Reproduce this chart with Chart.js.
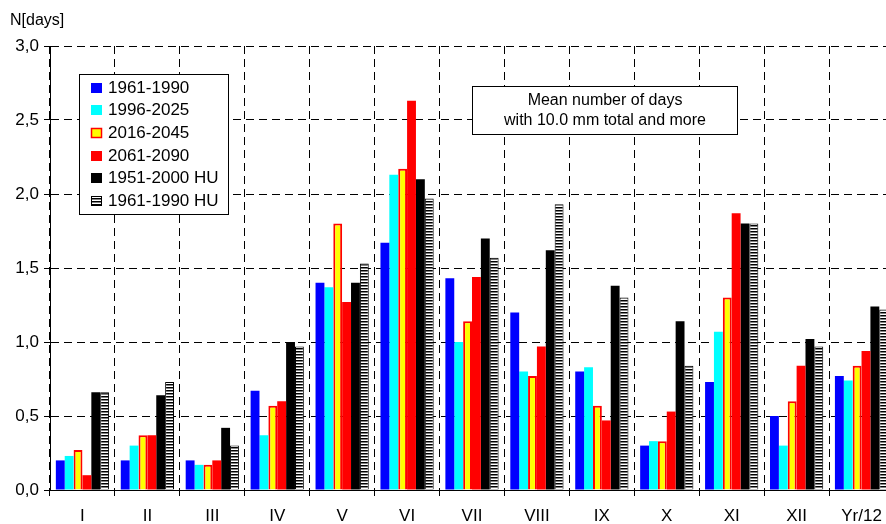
<!DOCTYPE html>
<html>
<head>
<meta charset="utf-8">
<script src="https://cdn.jsdelivr.net/npm/chart.js@4/dist/chart.umd.min.js"></script>
<style>
html, body { margin: 0; padding: 0; background: #fff; overflow: hidden; width: 886px; height: 524px; }
#c { display: block; }
</style>
</head>
<body>
<canvas id="c" width="900" height="524" style="width:900px;height:524px"></canvas>
<script>
const categories = ['I','II','III','IV','V','VI','VII','VIII','IX','X','XI','XII','Yr/12'];
const yTickLabels = ['0,0','0,5','1,0','1,5','2,0','2,5','3,0'];
const seriesNames = ['1961-1990','1996-2025','2016-2045','2061-2090','1951-2000 HU','1961-1990 HU'];
const s1961_1990   = [0.20, 0.20, 0.20, 0.67, 1.40, 1.67, 1.43, 1.20, 0.80, 0.30, 0.73, 0.50, 0.77];
const s1996_2025   = [0.23, 0.30, 0.17, 0.37, 1.37, 2.13, 1.00, 0.80, 0.83, 0.33, 1.07, 0.30, 0.74];
const s2016_2045   = [0.27, 0.37, 0.17, 0.57, 1.80, 2.17, 1.14, 0.77, 0.57, 0.33, 1.30, 0.60, 0.84];
const s2061_2090   = [0.10, 0.37, 0.20, 0.60, 1.27, 2.63, 1.44, 0.97, 0.47, 0.53, 1.87, 0.84, 0.94];
const s1951_2000HU = [0.66, 0.64, 0.42, 1.00, 1.40, 2.10, 1.70, 1.62, 1.38, 1.14, 1.80, 1.02, 1.24];
const s1961_1990HU = [0.66, 0.73, 0.30, 0.97, 1.53, 1.97, 1.57, 1.93, 1.30, 0.84, 1.80, 0.97, 1.22];
const titleLines = ['Mean number of days', 'with 10.0 mm total and more'];
const yAxisTitle = 'N[days]';

const FONT = '"Liberation Sans", Arial, sans-serif';

// hatch pattern
function makeHatch(ctx) {
  const pc = document.createElement('canvas');
  pc.width = 4; pc.height = 3;
  const p = pc.getContext('2d');
  p.fillStyle = '#fff'; p.fillRect(0, 0, 4, 3);
  p.fillStyle = '#000'; p.fillRect(0, 0, 4, 1);
  p.fillStyle = '#808080'; p.fillRect(0, 1, 4, 1);
  return ctx.createPattern(pc, 'repeat');
}

const canvas = document.getElementById('c');
const ctx = canvas.getContext('2d');
const hatch = makeHatch(ctx);

const styles = [
  { bg: '#0000ff', bc: '#0000ff', bw: 0 },
  { bg: '#00ffff', bc: '#00ffff', bw: 0 },
  { bg: '#ffff00', bc: '#ff0000', bw: 2 },
  { bg: '#ff0000', bc: '#ff0000', bw: 0 },
  { bg: '#000000', bc: '#000000', bw: 0 },
  { bg: hatch,     bc: '#000000', bw: 1 }
];
const seriesData = [s1961_1990, s1996_2025, s2016_2045, s2061_2090, s1951_2000HU, s1961_1990HU];

const datasets = seriesData.map((d, i) => ({
  label: seriesNames[i],
  data: d,
  backgroundColor: styles[i].bg,
  borderColor: styles[i].bc,
  borderWidth: styles[i].bw,
  categoryPercentage: 0.82,
  barPercentage: 1.0
}));

const overlay = {
  id: 'overlay',
  afterDraw(chart) {
    const c = chart.ctx;
    c.save();
    c.font = '16px ' + FONT;
    c.fillStyle = '#000';
    c.textAlign = 'left';
    c.textBaseline = 'alphabetic';
    c.fillText(yAxisTitle, 10, 25);

    // legend box
    c.fillStyle = '#fff';
    c.fillRect(79.5, 74.5, 149, 140);
    c.strokeStyle = '#000';
    c.lineWidth = 1;
    c.strokeRect(79.5, 74.5, 149, 140);
    c.font = '17px ' + FONT;
    for (let i = 0; i < seriesNames.length; i++) {
      const base = 92.7 + i * 22.6;
      const top = Math.round(base - 10);
      const st = styles[i];
      c.fillStyle = st.bg;
      c.fillRect(91, top, 11, 10);
      if (st.bw > 0) {
        c.strokeStyle = st.bc;
        c.lineWidth = st.bw === 2 ? 1.5 : 1;
        c.strokeRect(91.5, top + 0.5, 10, 9);
      }
      c.fillStyle = '#000';
      c.fillText(seriesNames[i], 108, base);
    }

    // title box
    c.font = '16px ' + FONT;
    c.fillStyle = '#fff';
    c.fillRect(472.5, 86.5, 265, 48);
    c.strokeStyle = '#000';
    c.lineWidth = 1;
    c.strokeRect(472.5, 86.5, 265, 48);
    c.fillStyle = '#000';
    c.textAlign = 'center';
    c.fillText(titleLines[0], 605, 105);
    c.fillText(titleLines[1], 605, 125);
    c.restore();
  }
};

new Chart(ctx, {
  type: 'bar',
  data: { labels: categories, datasets },
  plugins: [overlay],
  options: {
    responsive: false,
    animation: false,
    devicePixelRatio: 1,
    layout: { padding: { top: 46, right: 6, left: 0, bottom: 0 } },
    plugins: { legend: { display: false }, tooltip: { enabled: false } },
    scales: {
      x: {
        offset: true,
        grid: { offset: true, color: '#000', lineWidth: 1, tickLength: 6, tickColor: '#000', tickBorderDash: [] },
        border: { display: true, color: '#000', width: 1, dash: [8, 5] },
        ticks: { color: '#000', font: { size: 17, family: FONT }, padding: 10, maxRotation: 0, autoSkip: false },
        afterFit(scale) { scale.height = 34; }
      },
      y: {
        min: 0, max: 3,
        grid: { color: '#000', lineWidth: 1, tickLength: 6, tickColor: '#000', tickBorderDash: [] },
        border: { display: true, color: '#000', width: 1, dash: [8, 5] },
        ticks: {
          stepSize: 0.5, color: '#000', padding: 5,
          font: { size: 17, family: FONT },
          callback: (v, i) => yTickLabels[i]
        },
        afterFit(scale) { scale.width = 50; }
      }
    }
  }
});
</script>
</body>
</html>
